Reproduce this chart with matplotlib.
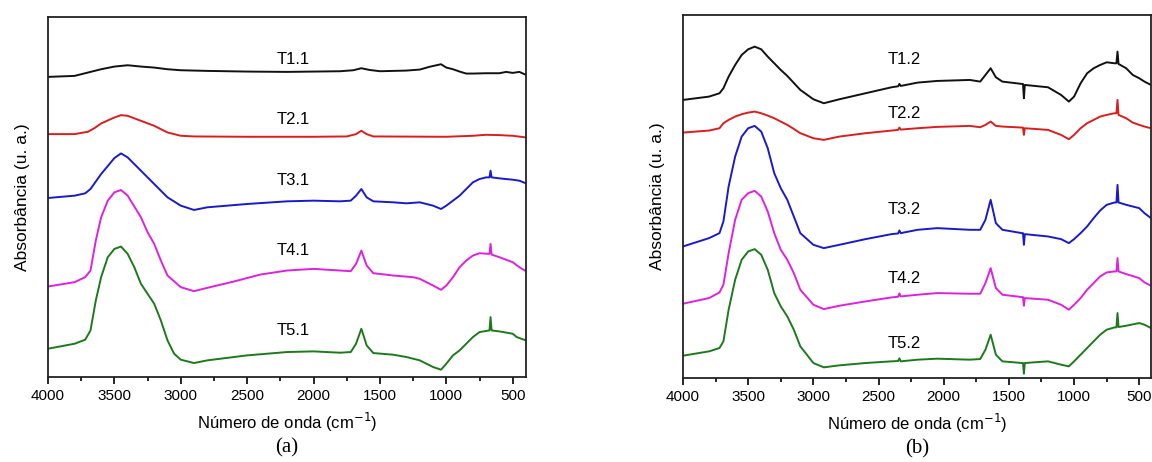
import numpy as np
import matplotlib.pyplot as plt
from matplotlib.ticker import MultipleLocator

plt.rcParams['font.family'] = ['Liberation Sans', 'DejaVu Sans']

# ---- painel (a): espectros FTIR, amostras T*.1 (absorbância deslocada, u.a.) ----
wn_t11 = [4000, 3800, 3700, 3600, 3500, 3400, 3300, 3200, 3100, 3000, 2800, 2500, 2200, 2000,
          1800, 1700, 1640, 1580, 1500, 1400, 1300, 1200, 1120, 1040, 1000, 950, 900, 850, 800,
          700, 600, 550, 500, 450, 400]
ab_t11 = [90.2, 90.5, 91.5, 92.5, 93.3, 93.7, 93.3, 93.0, 92.5, 92.2, 92.0, 91.8, 91.7, 91.8,
          91.9, 92.2, 92.8, 92.3, 91.9, 92.0, 92.1, 92.4, 93.3, 94.0, 93.0, 92.5, 91.8, 91.2, 91.2,
          91.3, 91.3, 91.7, 91.4, 91.7, 90.8]

wn_t21 = [4000, 3800, 3700, 3650, 3600, 3500, 3450, 3400, 3300, 3200, 3100, 3000, 2900, 2500,
          2000, 1750, 1680, 1640, 1600, 1550, 1000, 800, 700, 600, 500, 400]
ab_t21 = [73.0, 73.0, 73.7, 74.8, 76.2, 78.0, 78.7, 78.5, 77.0, 75.5, 73.5, 72.5, 72.3, 72.2,
          72.2, 72.3, 73.0, 74.0, 73.0, 72.3, 72.2, 72.5, 72.8, 72.7, 72.5, 72.0]

wn_t31 = [4000, 3800, 3720, 3680, 3600, 3500, 3450, 3400, 3300, 3250, 3200, 3100, 3000, 2900,
          2800, 2500, 2200, 2000, 1800, 1720, 1680, 1640, 1600, 1550, 1400, 1300, 1200, 1100,
          1040, 1000, 950, 900, 850, 800, 750, 700, 675, 667, 659, 600, 500, 450, 400]
ab_t31 = [53.8, 54.5, 55.2, 56.5, 61.0, 65.8, 67.2, 66.0, 62.0, 60.0, 58.0, 54.0, 51.5, 50.2,
          51.0, 52.0, 52.8, 53.0, 52.8, 53.0, 54.5, 56.5, 54.0, 52.8, 52.5, 52.2, 52.5, 51.5,
          50.5, 51.5, 53.0, 54.5, 56.5, 58.5, 59.5, 60.0, 60.0, 62.0, 60.0, 59.7, 59.3, 59.0, 58.2]

wn_t41 = [4000, 3800, 3720, 3680, 3640, 3600, 3550, 3500, 3450, 3400, 3300, 3250, 3200, 3150,
          3100, 3000, 2900, 2800, 2600, 2400, 2200, 2000, 1800, 1720, 1680, 1640, 1600, 1550,
          1400, 1250, 1200, 1100, 1040, 1000, 950, 900, 850, 800, 750, 675, 667, 659, 600, 500,
          450, 400]
ab_t41 = [27.2, 28.5, 30.0, 32.0, 41.0, 48.0, 53.0, 55.5, 56.2, 54.5, 48.0, 43.5, 40.0, 35.0,
          30.5, 27.0, 25.8, 26.8, 28.7, 30.8, 32.0, 32.5, 32.0, 31.8, 34.0, 38.0, 33.5, 31.2,
          30.5, 30.0, 29.5, 27.5, 26.2, 27.5, 30.0, 33.0, 35.0, 36.5, 37.2, 37.0, 40.0, 36.8,
          36.0, 34.5, 33.0, 31.8]

wn_t51 = [4000, 3800, 3720, 3680, 3640, 3600, 3550, 3500, 3450, 3400, 3350, 3300, 3250, 3200,
          3150, 3100, 3050, 3000, 2900, 2800, 2500, 2200, 2000, 1800, 1720, 1680, 1640, 1600,
          1550, 1400, 1300, 1200, 1100, 1040, 1000, 950, 900, 850, 800, 750, 675, 667, 659,
          600, 500, 470, 400]
ab_t51 = [8.5, 10.0, 11.2, 14.0, 23.0, 30.0, 36.0, 38.5, 39.2, 37.0, 33.0, 28.0, 25.0, 22.0,
          17.0, 11.0, 7.0, 5.2, 4.2, 5.0, 6.5, 7.5, 7.7, 7.3, 7.5, 10.0, 14.5, 9.5,
          7.2, 6.7, 6.0, 5.0, 3.0, 2.2, 4.0, 6.5, 8.0, 10.0, 12.0, 13.5, 14.0, 18.0, 14.0,
          13.7, 13.0, 12.0, 11.0]

# ---- painel (b): espectros FTIR, amostras T*.2 ----
wn_b = [4000, 3800, 3720, 3690, 3650, 3600, 3550, 3500, 3450, 3400, 3350, 3300, 3250, 3200,
        3150, 3100, 3000, 2920, 2800, 2600, 2400, 2350, 2340, 2330, 2200, 2050, 1800, 1720,
        1680, 1640, 1600, 1550, 1400, 1392, 1385, 1378, 1200, 1100, 1040, 1000, 950, 900, 850,
        800, 750, 690, 675, 667, 659, 600, 550, 500, 460, 410]
ab_t12 = [83.5, 84.5, 85.5, 87.0, 90.5, 94.0, 97.0, 98.7, 99.5, 98.7, 96.5, 94.5, 92.5, 90.7,
          88.6, 86.5, 83.7, 82.5, 83.7, 85.5, 87.3, 87.6, 88.3, 87.7, 88.7, 89.2, 89.5, 89.0,
          91.0, 93.0, 90.3, 89.0, 88.3, 88.3, 84.0, 88.0, 87.3, 85.0, 83.0, 84.5, 88.5, 91.5,
          93.0, 94.0, 94.8, 94.5, 94.5, 98.0, 94.3, 93.0, 91.0, 90.0, 89.0, 88.0]
ab_t22 = [73.7, 74.3, 75.0, 76.5, 77.5, 78.5, 79.2, 79.7, 80.0, 79.5, 78.8, 78.0, 77.0, 76.0,
          74.8, 73.5, 72.0, 71.5, 72.5, 73.5, 74.3, 74.5, 75.2, 74.6, 75.0, 75.4, 75.7, 75.3,
          76.0, 77.0, 75.7, 75.5, 75.2, 75.2, 73.0, 75.0, 74.5, 73.0, 71.7, 73.0, 75.0, 76.5,
          77.5, 78.5, 79.0, 79.5, 79.5, 83.5, 79.0, 78.0, 76.7, 76.0, 75.5, 75.0]
ab_t32 = [39.5, 42.0, 43.5, 47.0, 57.5, 66.5, 72.5, 75.0, 75.7, 74.0, 69.0, 61.5, 57.0, 53.5,
          48.5, 43.5, 40.0, 39.0, 40.0, 41.7, 43.2, 43.4, 44.3, 43.5, 44.5, 45.0, 44.5, 44.5,
          47.5, 53.5, 46.5, 44.5, 43.5, 43.5, 40.0, 43.2, 42.5, 41.7, 40.5, 41.7, 43.5, 45.5,
          48.0, 50.3, 52.0, 52.7, 52.7, 58.0, 52.7, 52.0, 51.5, 51.0, 49.5, 48.0]
ab_t42 = [22.3, 24.0, 25.7, 28.0, 37.5, 47.5, 53.5, 55.5, 56.2, 54.5, 50.0, 43.5, 38.5, 35.5,
          31.5, 26.5, 22.0, 20.7, 21.7, 23.0, 24.2, 24.4, 25.4, 24.5, 25.0, 25.5, 25.3, 25.3,
          28.5, 33.0, 27.0, 25.0, 24.3, 24.3, 21.7, 24.0, 23.5, 22.0, 20.5, 22.0, 24.0, 26.5,
          28.5, 30.5, 31.7, 32.0, 32.0, 36.0, 32.0, 31.2, 30.6, 30.0, 28.7, 27.7]
ab_t52 = [6.7, 8.0, 9.0, 11.0, 20.5, 29.5, 35.5, 38.0, 38.7, 37.0, 32.5, 25.5, 21.5, 18.5,
          14.5, 9.5, 4.5, 3.2, 3.8, 4.5, 5.0, 5.1, 5.9, 5.0, 5.5, 5.8, 5.5, 5.7,
          8.5, 13.0, 7.0, 5.0, 4.5, 4.5, 1.3, 4.5, 5.0, 4.0, 3.5, 5.0, 7.0, 9.0,
          11.0, 13.0, 14.5, 15.2, 15.2, 19.5, 15.3, 15.7, 16.1, 16.5, 16.0, 15.0]

cores = ['#111111', '#d81f1f', '#1a1ac8', '#dd22dd', '#1c7a1c']

curvas_a = [(wn_t11, ab_t11), (wn_t21, ab_t21), (wn_t31, ab_t31), (wn_t41, ab_t41), (wn_t51, ab_t51)]
rotulos_a = ['T1.1', 'T2.1', 'T3.1', 'T4.1', 'T5.1']
pos_rot_a = [95.5, 77.5, 59.0, 38.0, 14.0]

curvas_b = [(wn_b, ab_t12), (wn_b, ab_t22), (wn_b, ab_t32), (wn_b, ab_t42), (wn_b, ab_t52)]
rotulos_b = ['T1.2', 'T2.2', 'T3.2', 'T4.2', 'T5.2']
pos_rot_b = [95.5, 79.5, 50.5, 30.0, 10.5]


def painel(ax, curvas, rotulos, pos_rot, x_rot, xmin, ytop, letra):
    for (wn, ab), cor in zip(curvas, cores):
        ax.plot(wn, ab, color=cor, lw=1.4)
    for rot, yr in zip(rotulos, pos_rot):
        ax.text(x_rot, yr, rot, fontsize=12, ha='center', va='center')
    ax.set_xlim(4000, xmin)
    ax.set_ylim(0, ytop)
    ax.set_yticks([])
    ax.xaxis.set_major_locator(MultipleLocator(500))
    ax.xaxis.set_minor_locator(MultipleLocator(250))
    ax.tick_params(axis='x', which='major', direction='out', length=5, width=1.2, labelsize=11)
    ax.tick_params(axis='x', which='minor', direction='out', length=3, width=1.2)
    for s in ax.spines.values():
        s.set_linewidth(1.3)
        s.set_color('#222222')
    ax.set_xlabel('Número de onda (cm$^{-1}$)', fontsize=12, labelpad=6)
    ax.set_ylabel('Absorbância (u. a.)', fontsize=12.5, labelpad=13)
    ax.text(0.5, -0.17, letra, transform=ax.transAxes, ha='center', va='top',
            fontsize=15, family='Liberation Serif')


fig = plt.figure(figsize=(11.52, 4.62), dpi=100)
ax_a = fig.add_axes([48 / 1152, 85 / 462, 478 / 1152, 360 / 462])
ax_b = fig.add_axes([683 / 1152, 84 / 462, 468 / 1152, 363 / 462])

painel(ax_a, curvas_a, rotulos_a, pos_rot_a, 2150, 400, 108.2, '(a)')
painel(ax_b, curvas_b, rotulos_b, pos_rot_b, 2300, 410, 109.0, '(b)')

fig.savefig('out.png', dpi=100)
